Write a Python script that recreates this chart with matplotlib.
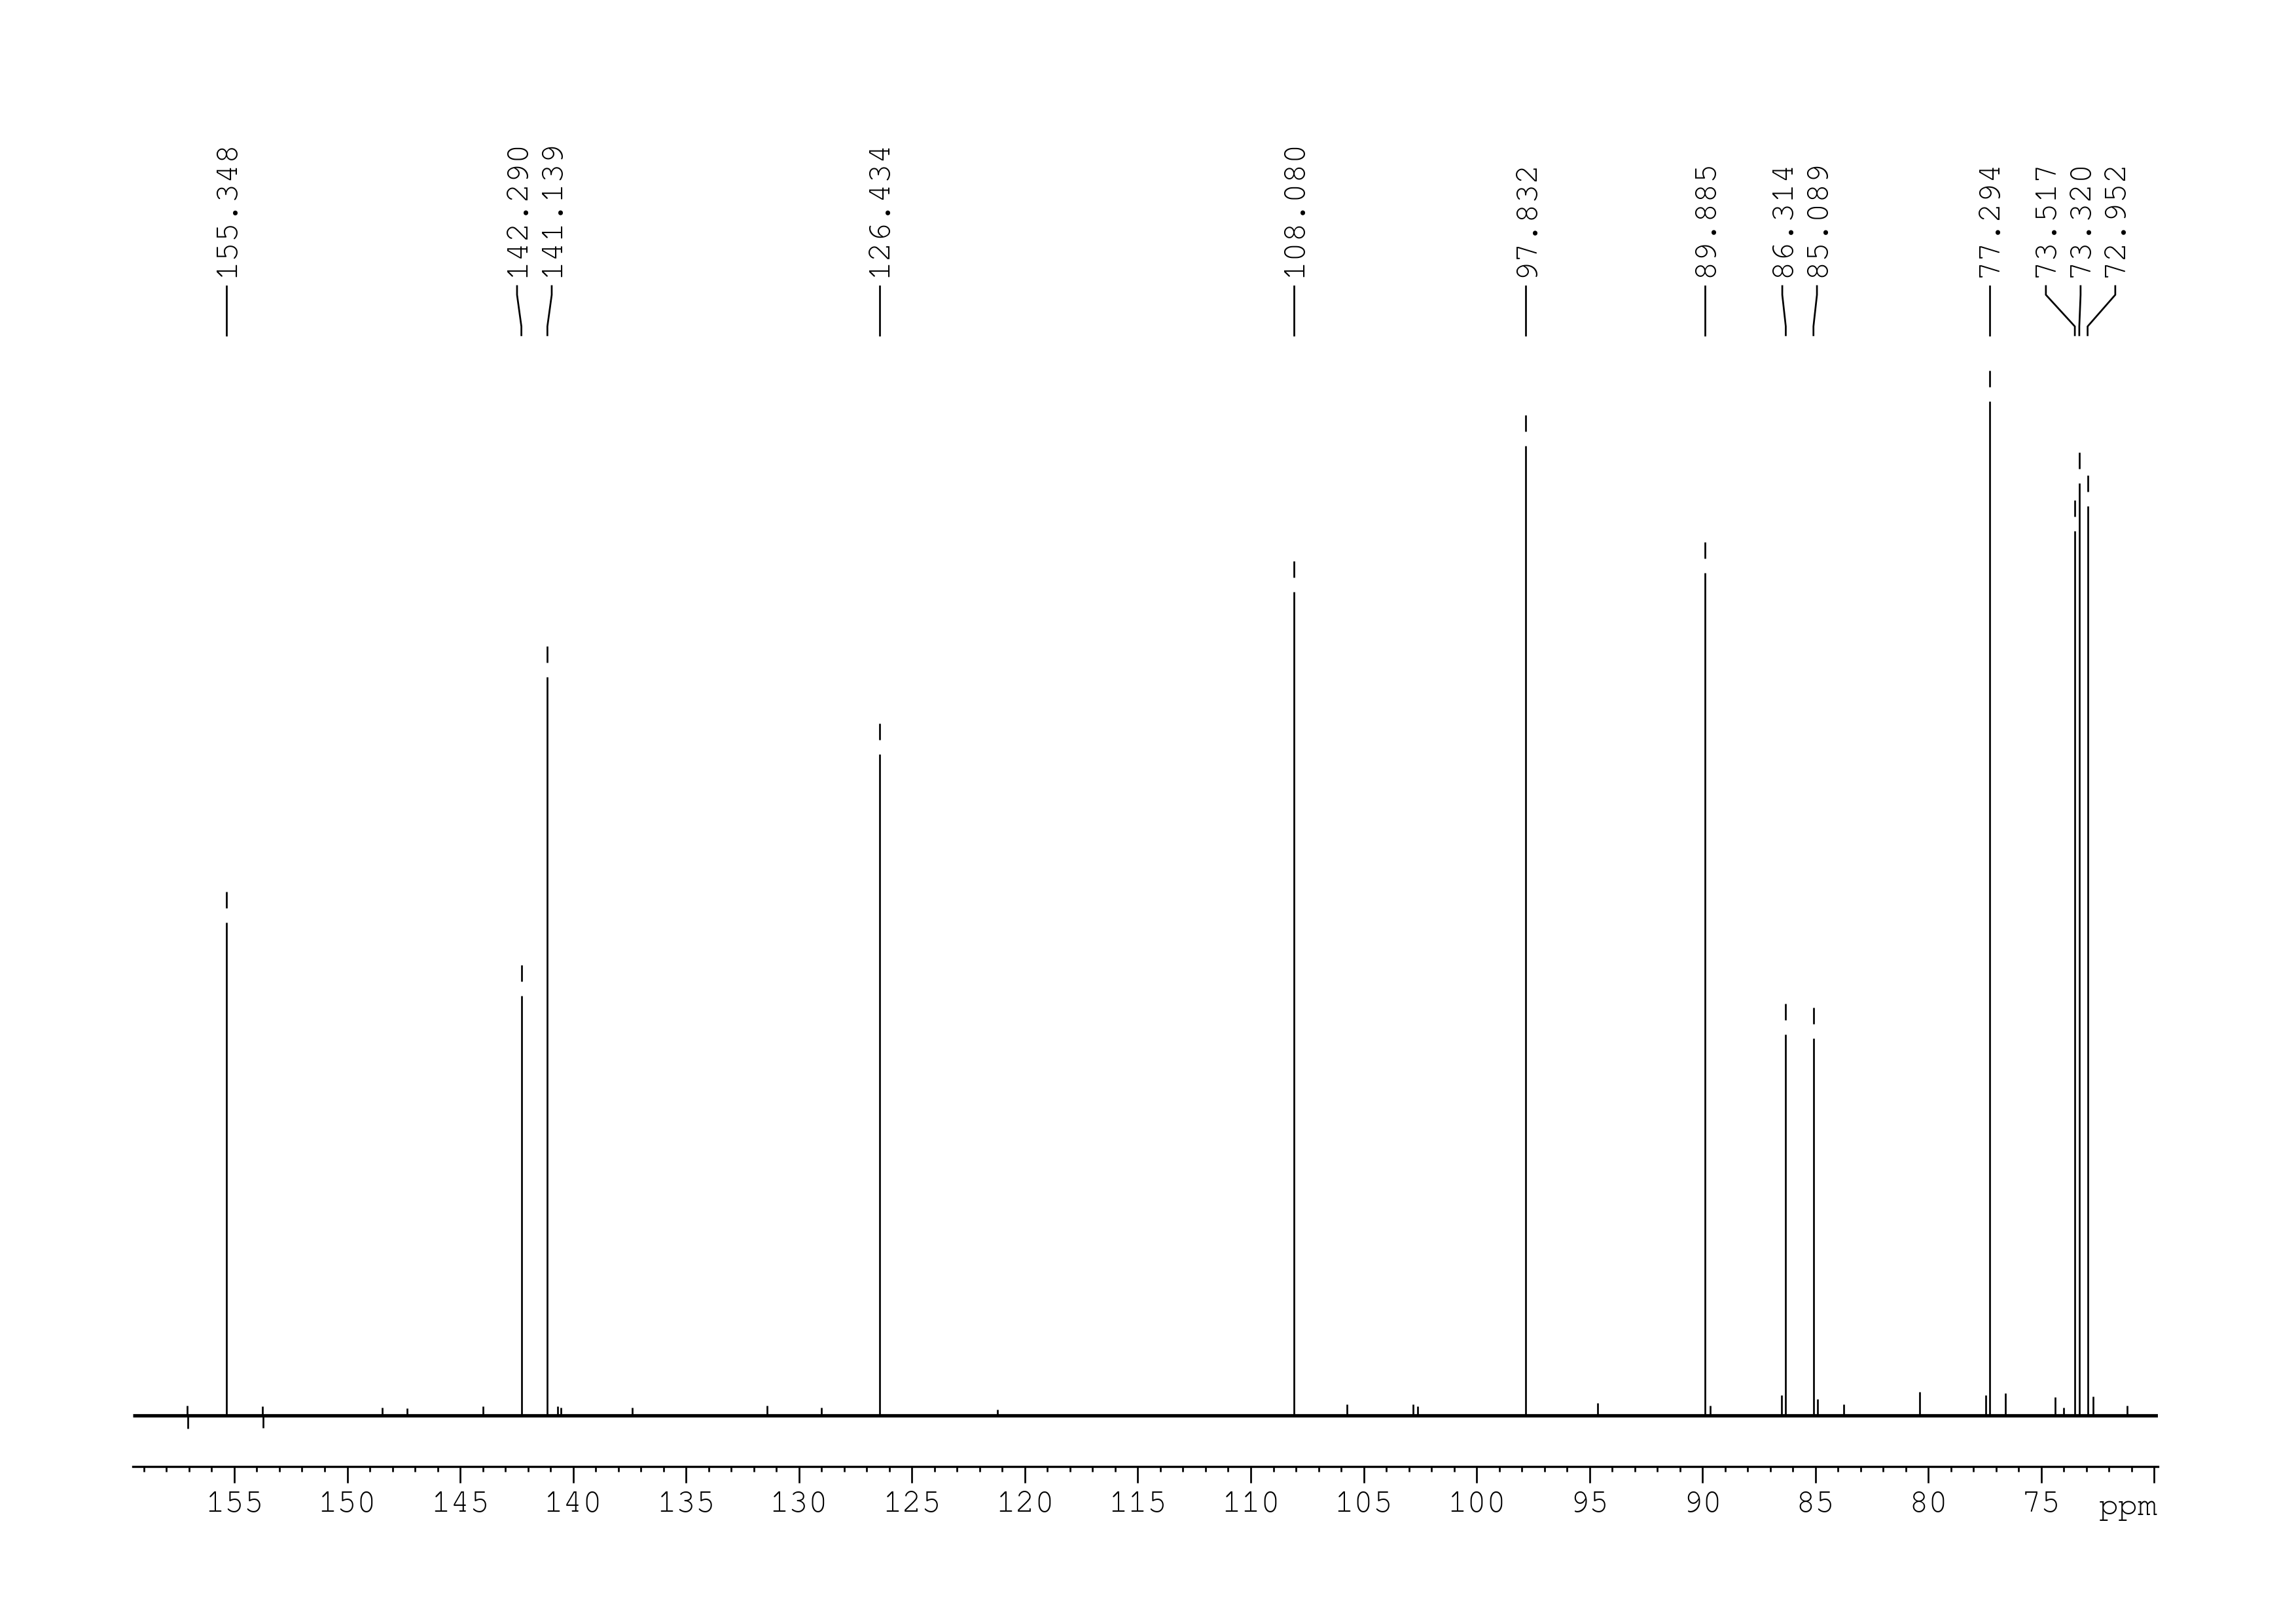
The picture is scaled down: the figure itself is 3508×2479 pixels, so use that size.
import matplotlib
matplotlib.use("Agg")
import matplotlib.pyplot as plt
import matplotlib.transforms as mtransforms
import matplotlib.patheffects as pe
from matplotlib import font_manager as fm
import numpy as np

# ---------------- data ----------------
peak_ppm = [155.348, 142.290, 141.139, 126.434, 108.080, 97.832, 89.885,
            86.314, 85.089, 77.294, 73.517, 73.320, 72.952]
peak_int = [48.6, 41.4, 72.8, 65.2, 81.2, 95.6, 83.1,
            37.6, 37.2, 100.0, 87.2, 91.9, 89.7]

# small signals / artefacts visible along the baseline
minor_ppm = [157.09, 157.05, 153.75, 153.71, 148.45, 147.35, 143.99, 140.68,
             140.54, 137.38, 131.41, 129.00, 121.20, 105.74, 102.81, 102.61,
             94.64, 89.66, 86.50, 84.90, 83.75, 80.38, 77.46, 76.59, 74.40,
             74.00, 72.70, 71.20]
minor_int = [1.0, -1.3, 0.9, -1.2, 0.8, 0.7, 0.9, 0.9,
             0.8, 0.8, 1.0, 0.8, 0.6, 1.1, 1.1, 0.9,
             1.2, 1.0, 2.0, 1.6, 1.1, 2.3, 2.0, 2.2, 1.8,
             0.8, 1.9, 1.0]

major_ticks = [155, 150, 145, 140, 135, 130, 125, 120, 115, 110, 105,
               100, 95, 90, 85, 80, 75, 70]
major_labels = ["155", "150", "145", "140", "135", "130", "125", "120", "115",
                "110", "105", "100", "95", "90", "85", "80", "75", ""]
unit_label = "ppm"

# ---------------- font choice ----------------
installed = {f.name for f in fm.fontManager.ttflist}
preferred = ["Courier New", "Courier", "Nimbus Mono PS", "Nimbus Mono L",
             "FreeMono", "Liberation Mono", "DejaVu Sans Mono"]
FONT = [f for f in preferred if f in installed] or ["DejaVu Sans Mono"]
FONT = FONT[:1] + [f for f in ["DejaVu Sans Mono"] if f not in FONT[:1]]
thin = FONT[0] in ("Liberation Mono", "DejaVu Sans Mono")
TXT_FX = [pe.Normal(), pe.Stroke(linewidth=0.32, foreground="white")] if thin else None

# ---------------- figure ----------------
W_PX, H_PX, DPI = 3508, 2479, 300
fig = plt.figure(figsize=(W_PX / DPI, H_PX / DPI), dpi=DPI)
fig.patch.set_facecolor("white")

FS = 12
LW = 0.65

left_px, right_px = 203, 3297
axis_px, top_px = 2240, 100
ax = fig.add_axes([left_px / W_PX, 1 - axis_px / H_PX,
                   (right_px - left_px) / W_PX, (axis_px - top_px) / H_PX])

xlim = (159.49, 69.84)
ax.set_xlim(*xlim)
px_per_unit = 15.49
ybot = -(axis_px - 2162) / px_per_unit
ytop = ybot + (axis_px - top_px) / px_per_unit
ax.set_ylim(ybot, ytop)

# spectrum: baseline + peaks
ax.hlines(0, xlim[0], xlim[1], color="black", lw=1.25, zorder=2)
all_ppm = list(peak_ppm) + list(minor_ppm)
all_int = list(peak_int) + list(minor_int)
ax.vlines(all_ppm, 0, all_int, color="black", lw=LW, zorder=3)

# small marker dashes above the labelled peaks
gap_u = 22 / px_per_unit
len_u = 25 / px_per_unit
ax.vlines(peak_ppm, np.array(peak_int) + gap_u, np.array(peak_int) + gap_u + len_u,
          color="black", lw=LW, zorder=3)

# axes styling
for s in ["left", "right", "top"]:
    ax.spines[s].set_visible(False)
ax.spines["bottom"].set_linewidth(0.8)
ax.set_yticks([])
ax.set_xticks(major_ticks)
ax.set_xticklabels(major_labels, fontfamily=FONT, fontsize=FS)
if TXT_FX:
    for t in ax.get_xticklabels():
        t.set_path_effects(TXT_FX)
ax.set_xticks(np.arange(70, 160, 1), minor=True)
ax.tick_params(axis="x", which="major", direction="out", length=6, width=0.65, pad=3)
ax.tick_params(axis="x", which="minor", direction="out", length=2, width=0.65)

# unit label at the right end
tr_lab = mtransforms.blended_transform_factory(ax.transData, fig.transFigure)
ax.text(xlim[1], 1 - 2314 / H_PX, unit_label, transform=tr_lab, ha="right",
        va="baseline", fontfamily=FONT, fontsize=FS, clip_on=False,
        path_effects=TXT_FX)

# ---------------- peak labels ----------------
px_per_ppm = (3119 - 358) / 80.0
sep = 53 / px_per_ppm
u = [-p for p in peak_ppm]  # increasing left -> right
groups = [[i] for i in range(len(u))]


def group_pos(g):
    c = np.mean([u[i] for i in g])
    n = len(g)
    return [c + (k - (n - 1) / 2) * sep for k in range(n)]


changed = True
while changed:
    changed = False
    for gi in range(len(groups) - 1):
        a = group_pos(groups[gi])
        b = group_pos(groups[gi + 1])
        if b[0] - a[-1] < sep - 1e-9:
            groups[gi] = groups[gi] + groups[gi + 1]
            del groups[gi + 1]
            changed = True
            break

label_x = [0.0] * len(u)
for g in groups:
    for i, pos in zip(g, group_pos(g)):
        label_x[i] = -pos

y_text = 1 - 423 / H_PX
y1 = 1 - 437 / H_PX
y2 = 1 - 450.3 / H_PX
y3 = 1 - 498.6 / H_PX
y4 = 1 - 512 / H_PX
for p, lx in zip(peak_ppm, label_x):
    ax.text(lx, y_text, f"{p:.3f}", transform=tr_lab, rotation=90,
            ha="center", va="bottom", fontfamily=FONT, fontsize=FS, clip_on=False,
            path_effects=TXT_FX)
    ax.plot([lx, lx, p, p], [y1, y2, y3, y4], transform=tr_lab, color="black",
            lw=LW, clip_on=False, solid_joinstyle="miter")

fig.savefig("out.png", dpi=DPI, facecolor="white")
